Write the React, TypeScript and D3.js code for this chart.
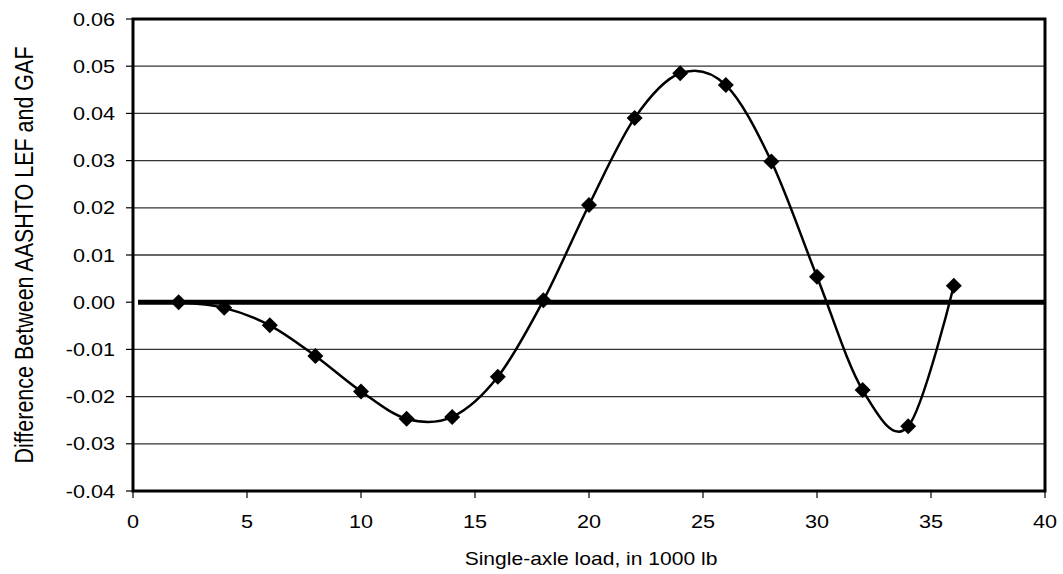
import * as d3 from 'd3';

const loads = [2, 4, 6, 8, 10, 12, 14, 16, 18, 20, 22, 24, 26, 28, 30, 32, 34, 36];
const diffs = [
    0.0, -0.0012, -0.0049, -0.0114, -0.0189, -0.0247, -0.0243, -0.0158, 0.0004,
    0.0206, 0.039, 0.0485, 0.046, 0.0298, 0.0054, -0.0186, -0.0263, 0.0035,
];
const xTicks = [0, 5, 10, 15, 20, 25, 30, 35, 40];
const yTicks = [-0.04, -0.03, -0.02, -0.01, 0, 0.01, 0.02, 0.03, 0.04, 0.05, 0.06];

const width = 1063;
const height = 574;
const margin = { left: 133, right: 18, top: 19, bottom: 83 };
// the scanned original is a bit wider than tall in its lettering
const stretch = 1.17;

export default function App() {
    const x = d3.scaleLinear().domain([0, 40]).range([margin.left, width - margin.right]);
    const y = d3.scaleLinear().domain([-0.04, 0.06]).range([height - margin.bottom, margin.top]);

    const points: [number, number][] = loads.map((l, i) => [l, diffs[i]]);
    const line = d3
        .line<[number, number]>()
        .x((d) => x(d[0]))
        .y((d) => y(d[1]))
        .curve(d3.curveCardinal.tension(0));

    const font = 'Arial, "Liberation Sans", sans-serif';
    const diamond = (cx: number, cy: number, r: number) =>
        `M${cx},${cy - r}L${cx + r},${cy}L${cx},${cy + r}L${cx - r},${cy}Z`;

    return (
        <svg
            width={width}
            height={height}
            style={{ position: 'absolute', left: 0, top: 0, background: '#fff' }}
            fontFamily={font}
        >
            {/* grid */}
            {yTicks
                .filter((t) => t !== 0 && t !== -0.04 && t !== 0.06)
                .map((t) => (
                    <line
                        key={t}
                        x1={x(0)}
                        x2={x(40)}
                        y1={y(t)}
                        y2={y(t)}
                        stroke="#333"
                        strokeWidth={1.3}
                    />
                ))}

            {/* zero line */}
            <line x1={x(0) + 5} x2={x(40)} y1={y(0)} y2={y(0)} stroke="#000" strokeWidth={5} />

            {/* frame */}
            <rect
                x={x(0)}
                y={y(0.06)}
                width={x(40) - x(0)}
                height={y(-0.04) - y(0.06)}
                fill="none"
                stroke="#000"
                strokeWidth={3}
            />

            {/* y ticks */}
            {yTicks.map((t) => (
                <g key={t}>
                    <line x1={x(0) - 7} x2={x(0)} y1={y(t)} y2={y(t)} stroke="#000" strokeWidth={1.2} />
                    <text
                        transform={`translate(${x(0) - 18},${y(t)}) scale(${stretch},1)`}
                        dy="0.36em"
                        textAnchor="end"
                        fontSize={18.5}
                        fill="#000"
                    >
                        {t.toFixed(2)}
                    </text>
                </g>
            ))}

            {/* x ticks */}
            {xTicks.map((t) => (
                <g key={t}>
                    <line x1={x(t)} x2={x(t)} y1={y(-0.04)} y2={y(-0.04) + 7} stroke="#000" strokeWidth={1.2} />
                    <text
                        transform={`translate(${x(t)},${y(-0.04) + 37}) scale(${stretch},1)`}
                        textAnchor="middle"
                        fontSize={18.5}
                        fill="#000"
                    >
                        {t}
                    </text>
                </g>
            ))}

            {/* series */}
            <path d={line(points) ?? ''} fill="none" stroke="#000" strokeWidth={2.5} />
            {points.map((p) => (
                <path key={p[0]} d={diamond(x(p[0]), y(p[1]), 8)} fill="#000" />
            ))}

            {/* axis titles */}
            <text
                transform={`translate(${(x(0) + x(40)) / 2 + 2},565) scale(${stretch},1)`}
                textAnchor="middle"
                fontSize={18}
                fill="#000"
            >
                Single-axle load, in 1000 lb
            </text>
            <text
                transform={`translate(33, ${(y(0.06) + y(-0.04)) / 2}) rotate(-90) scale(1,${stretch})`}
                textAnchor="middle"
                fontSize={21.5}
                fill="#000"
            >
                Difference Between AASHTO LEF and GAF
            </text>
        </svg>
    );
}
